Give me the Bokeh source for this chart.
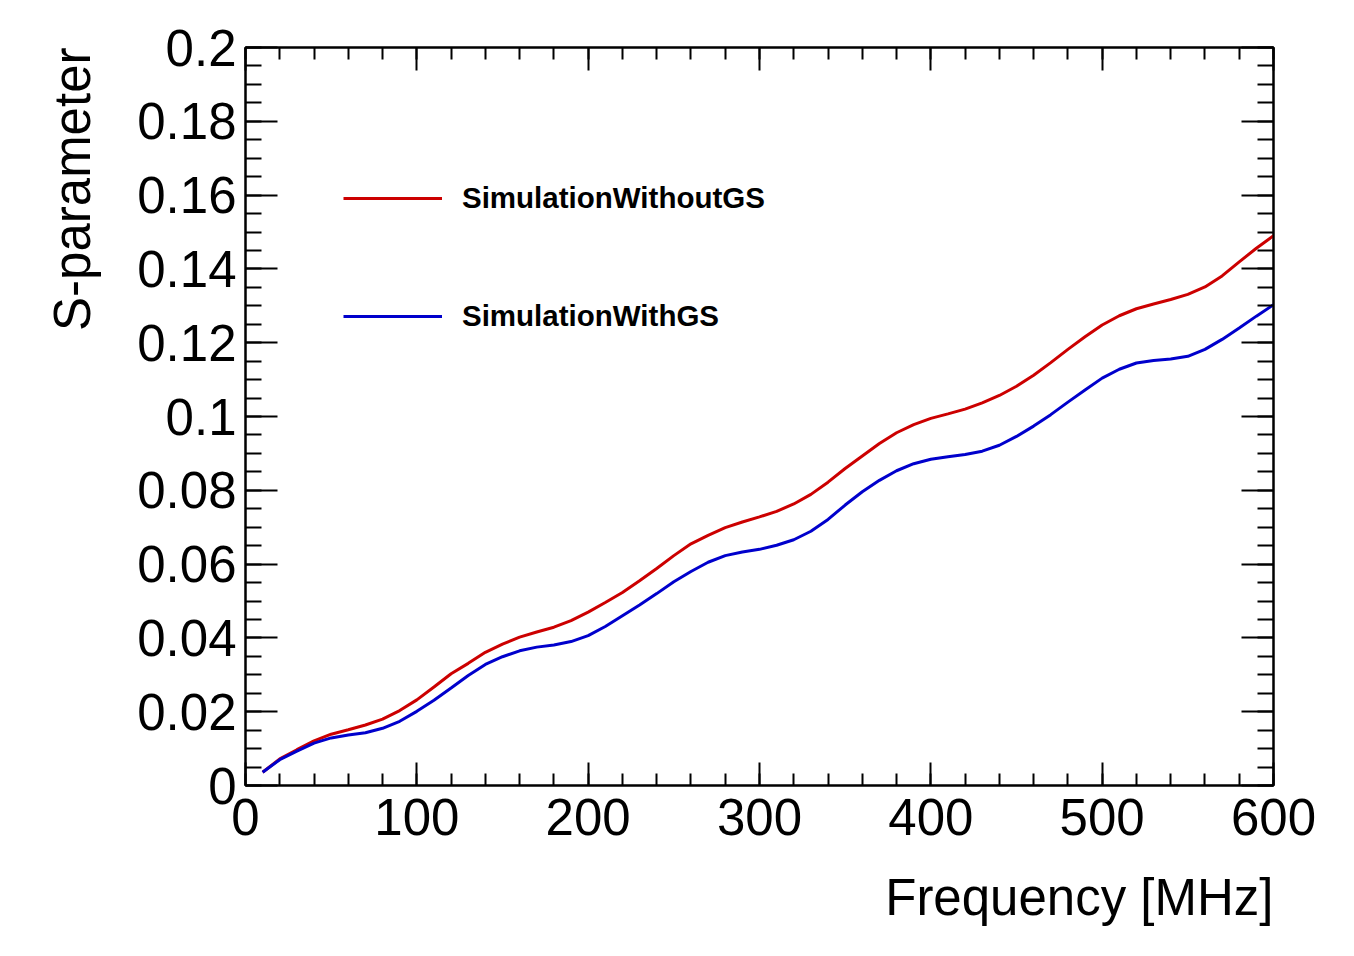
import math
from bokeh.plotting import figure
from bokeh.models import (Range1d, FixedTicker, LinearAxis, CustomJSTickFormatter,
                          Title, Legend, LegendItem)
from bokeh.embed import file_html
from bokeh.resources import INLINE

freq = [10, 20, 30, 40, 50, 60, 70, 80, 90, 100,
        110, 120, 130, 140, 150, 160, 170, 180, 190, 200,
        210, 220, 230, 240, 250, 260, 270, 280, 290, 300,
        310, 320, 330, 340, 350, 360, 370, 380, 390, 400,
        410, 420, 430, 440, 450, 460, 470, 480, 490, 500,
        510, 520, 530, 540, 550, 560, 570, 580, 590, 600]

s_without_gs = [0.0036, 0.0072, 0.0097, 0.0121, 0.0139, 0.0151, 0.0164, 0.0180, 0.0203, 0.0232,
                0.0267, 0.0303, 0.0331, 0.0361, 0.0383, 0.0402, 0.0416, 0.0429, 0.0447, 0.0470,
                0.0496, 0.0523, 0.0555, 0.0588, 0.0623, 0.0655, 0.0678, 0.0699, 0.0714, 0.0728,
                0.0743, 0.0763, 0.0789, 0.0822, 0.0859, 0.0893, 0.0927, 0.0956, 0.0978, 0.0995,
                0.1007, 0.1020, 0.1037, 0.1057, 0.1082, 0.1112, 0.1146, 0.1182, 0.1216, 0.1248,
                0.1273, 0.1292, 0.1305, 0.1317, 0.1331, 0.1351, 0.1381, 0.1419, 0.1456, 0.1490]

s_with_gs = [0.0036, 0.0070, 0.0093, 0.0115, 0.0129, 0.0137, 0.0143, 0.0155, 0.0174, 0.0201,
             0.0231, 0.0264, 0.0298, 0.0328, 0.0349, 0.0365, 0.0375, 0.0381, 0.0390, 0.0406,
             0.0431, 0.0460, 0.0489, 0.0520, 0.0552, 0.0580, 0.0605, 0.0623, 0.0633, 0.0640,
             0.0651, 0.0666, 0.0689, 0.0721, 0.0760, 0.0796, 0.0827, 0.0853, 0.0872, 0.0884,
             0.0891, 0.0897, 0.0906, 0.0922, 0.0946, 0.0974, 0.1005, 0.1039, 0.1072, 0.1104,
             0.1128, 0.1145, 0.1152, 0.1156, 0.1163, 0.1182, 0.1209, 0.1240, 0.1272, 0.1303]

x_major = [0, 100, 200, 300, 400, 500, 600]
x_minor = list(range(0, 601, 20))
y_major = [0.0, 0.02, 0.04, 0.06, 0.08, 0.10, 0.12, 0.14, 0.16, 0.18, 0.20]
y_minor = [i * 0.005 for i in range(41)]

series_names = ["SimulationWithoutGS", "SimulationWithGS"]
series_colors = ["#cc0000", "#0000cc"]
x_title = "Frequency [MHz]"
y_title = "S-parameter"

FONT = "Liberation Sans"

p = figure(width=1354, height=956, output_backend="svg", toolbar_location=None,
           x_range=Range1d(0, 600), y_range=Range1d(0, 0.2),
           x_axis_location=None, y_axis_location=None)
p.min_border_left = 245
p.min_border_right = 81
p.min_border_top = 47
p.min_border_bottom = 171
p.xgrid.visible = False
p.ygrid.visible = False
p.outline_line_color = "black"
p.outline_line_width = 2
p.background_fill_color = "white"
p.border_fill_color = "white"

fmt = CustomJSTickFormatter(code="return String(Number(tick.toFixed(4)));")
blank = CustomJSTickFormatter(code="return '';")

def style_axis(ax, major_len, minor_len, show_labels, ticks, minors):
    ax.ticker = FixedTicker(ticks=ticks, minor_ticks=minors)
    ax.major_tick_in = major_len
    ax.major_tick_out = 0
    ax.minor_tick_in = minor_len
    ax.minor_tick_out = 0
    ax.major_tick_line_width = 2
    ax.minor_tick_line_width = 2
    ax.major_tick_line_color = "black"
    ax.minor_tick_line_color = "black"
    ax.axis_line_width = 2
    ax.axis_line_color = "black"
    ax.major_label_text_font = FONT
    ax.major_label_text_font_size = "51px"
    ax.major_label_text_color = "black"
    ax.formatter = fmt if show_labels else blank

bottom = LinearAxis()
style_axis(bottom, 23, 12, True, x_major, x_minor)
bottom.major_label_standoff = 13
p.add_layout(bottom, "below")

top = LinearAxis()
style_axis(top, 23, 12, False, x_major, x_minor)
top.major_label_standoff = 0
p.add_layout(top, "above")

left = LinearAxis()
style_axis(left, 32, 16, True, y_major, y_minor)
left.major_label_standoff = 9
p.add_layout(left, "left")

right = LinearAxis()
style_axis(right, 32, 16, False, y_major, y_minor)
right.major_label_standoff = 0
p.add_layout(right, "right")

r1 = p.line(freq, s_without_gs, line_color=series_colors[0], line_width=3)
r2 = p.line(freq, s_with_gs, line_color=series_colors[1], line_width=3)

legend = Legend(items=[LegendItem(label=series_names[0], renderers=[r1]),
                       LegendItem(label=series_names[1], renderers=[r2])],
                location=(98, 452), orientation="vertical",
                border_line_alpha=0, background_fill_alpha=0,
                padding=0, margin=0, spacing=84,
                glyph_width=99, glyph_height=30, label_height=30,
                label_standoff=20,
                label_text_font=FONT, label_text_font_size="29.5px",
                label_text_font_style="bold", label_text_color="black")
p.add_layout(legend)

xt = Title(text=x_title, align="right", standoff=58, text_font=FONT,
           text_font_size="51px", text_font_style="normal", text_color="black")
p.add_layout(xt, "below")

yt = Title(text=y_title, align="right", standoff=67, text_font=FONT,
           text_font_size="51px", text_font_style="normal", text_color="black")
p.add_layout(yt, "left")

open("out.html", "w").write(file_html(p, INLINE))
